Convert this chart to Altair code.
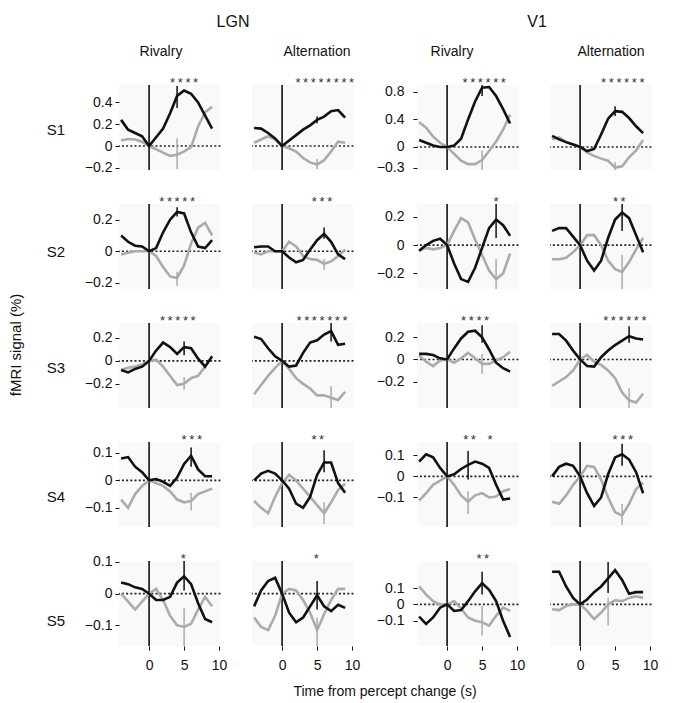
import altair as alt
import pandas as pd

# ---------------- data ----------------
T = [-4, -3, -2, -1, 0, 1, 2, 3, 4, 5, 6, 7, 8, 9]
X_DOMAIN = [-4.3, 10.2]
X_TICKS = [0, 5, 10]

SUBJECTS = ["S1", "S2", "S3", "S4", "S5"]
REGIONS = ["LGN", "V1"]
CONDITIONS = ["Rivalry", "Alternation"]

# y ranges / ticks per subject
LGN_YDOMAIN = [[-0.22, 0.56], [-0.24, 0.30], [-0.41, 0.33], [-0.17, 0.14], [-0.165, 0.103]]
V1_YDOMAIN = [[-0.335, 0.90], [-0.31, 0.29], [-0.44, 0.33], [-0.24, 0.163], [-0.255, 0.266]]
LGN_YTICKS = [[-0.2, 0, 0.2, 0.4], [-0.2, 0, 0.2], [-0.2, 0, 0.2], [-0.1, 0, 0.1], [-0.1, 0, 0.1]]
V1_YTICKS = [[-0.3, 0, 0.4, 0.8], [-0.2, 0, 0.2], [-0.2, 0, 0.2], [-0.1, 0, 0.1], [-0.1, 0, 0.1]]

# S1
S1_LGN_RIV_BLACK = [0.24, 0.15, 0.12, 0.09, 0.0, 0.08, 0.16, 0.30, 0.46, 0.51, 0.48, 0.40, 0.28, 0.16]
S1_LGN_RIV_GREY = [0.05, 0.065, 0.06, 0.04, 0.0, -0.03, -0.06, -0.09, -0.08, -0.05, -0.01, 0.18, 0.31, 0.36]
S1_LGN_ALT_BLACK = [0.165, 0.16, 0.12, 0.07, 0.0, 0.05, 0.10, 0.15, 0.19, 0.24, 0.27, 0.32, 0.33, 0.26]
S1_LGN_ALT_GREY = [0.03, 0.06, 0.09, 0.06, 0.0, -0.02, -0.05, -0.11, -0.15, -0.17, -0.13, -0.05, 0.04, 0.03]
S1_V1_RIV_BLACK = [0.10, 0.06, 0.02, 0.0, 0.0, 0.02, 0.12, 0.40, 0.66, 0.86, 0.87, 0.74, 0.55, 0.34]
S1_V1_RIV_GREY = [0.36, 0.28, 0.15, 0.06, 0.0, -0.10, -0.20, -0.25, -0.25, -0.19, -0.06, 0.08, 0.25, 0.47]
S1_V1_ALT_BLACK = [0.16, 0.11, 0.07, 0.035, 0.0, -0.06, -0.03, 0.18, 0.41, 0.52, 0.51, 0.42, 0.30, 0.20]
S1_V1_ALT_GREY = [0.11, 0.14, 0.07, 0.04, 0.0, -0.08, -0.13, -0.17, -0.20, -0.30, -0.28, -0.15, -0.05, 0.10]
# S2
S2_LGN_RIV_BLACK = [0.10, 0.06, 0.035, 0.03, 0.0, 0.02, 0.12, 0.20, 0.25, 0.24, 0.12, 0.03, 0.02, 0.07]
S2_LGN_RIV_GREY = [-0.02, -0.01, 0.0, 0.0, 0.0, -0.03, -0.10, -0.16, -0.17, -0.09, 0.05, 0.15, 0.18, 0.10]
S2_LGN_ALT_BLACK = [0.025, 0.03, 0.03, 0.0, 0.0, -0.04, -0.07, -0.055, 0.01, 0.07, 0.11, 0.06, -0.02, -0.05]
S2_LGN_ALT_GREY = [-0.01, -0.02, 0.0, 0.0, 0.0, 0.06, 0.03, -0.03, -0.05, -0.055, -0.08, -0.065, -0.03, 0.01]
S2_V1_RIV_BLACK = [-0.04, 0.0, 0.03, 0.045, 0.0, -0.13, -0.24, -0.26, -0.16, -0.02, 0.12, 0.18, 0.14, 0.065]
S2_V1_RIV_GREY = [-0.04, -0.02, -0.03, -0.02, 0.0, 0.10, 0.19, 0.16, 0.04, -0.07, -0.18, -0.24, -0.20, -0.06]
S2_V1_ALT_BLACK = [0.10, 0.12, 0.12, 0.06, 0.0, -0.11, -0.18, -0.11, 0.05, 0.18, 0.23, 0.19, 0.07, -0.05]
S2_V1_ALT_GREY = [-0.10, -0.10, -0.09, -0.05, 0.0, 0.07, 0.07, 0.0, -0.11, -0.17, -0.19, -0.12, -0.03, 0.05]
# S3
S3_LGN_RIV_BLACK = [-0.08, -0.10, -0.07, -0.05, 0.0, 0.09, 0.16, 0.12, 0.06, 0.12, 0.11, 0.02, -0.05, 0.04]
S3_LGN_RIV_GREY = [-0.08, -0.06, -0.05, -0.03, 0.0, 0.01, -0.05, -0.13, -0.21, -0.20, -0.15, -0.13, -0.05, None]
S3_LGN_ALT_BLACK = [0.21, 0.19, 0.11, 0.04, 0.0, -0.05, -0.04, 0.07, 0.16, 0.18, 0.23, 0.26, 0.14, 0.15]
S3_LGN_ALT_GREY = [-0.29, -0.21, -0.13, -0.06, 0.0, -0.07, -0.15, -0.20, -0.24, -0.30, -0.30, -0.32, -0.34, -0.27]
S3_V1_RIV_BLACK = [0.05, 0.05, 0.04, 0.01, 0.0, 0.10, 0.19, 0.25, 0.26, 0.20, 0.09, -0.03, -0.08, -0.11]
S3_V1_RIV_GREY = [0.035, -0.02, -0.06, -0.01, 0.0, -0.03, 0.01, 0.06, 0.01, -0.04, -0.04, -0.01, 0.02, 0.07]
S3_V1_ALT_BLACK = [0.23, 0.23, 0.17, 0.08, 0.0, -0.06, -0.065, 0.02, 0.08, 0.13, 0.17, 0.21, 0.19, 0.18]
S3_V1_ALT_GREY = [-0.24, -0.20, -0.16, -0.10, 0.0, 0.04, -0.02, -0.05, -0.10, -0.17, -0.30, -0.37, -0.39, -0.31]
# S4
S4_LGN_RIV_BLACK = [0.08, 0.085, 0.05, 0.03, 0.0, 0.005, -0.005, -0.02, 0.01, 0.06, 0.09, 0.04, 0.015, 0.015]
S4_LGN_RIV_GREY = [-0.07, -0.10, -0.05, -0.02, 0.0, -0.01, -0.02, -0.04, -0.07, -0.08, -0.075, -0.05, -0.04, -0.03]
S4_LGN_ALT_BLACK = [0.0, 0.025, 0.035, 0.025, 0.0, -0.03, -0.085, -0.10, -0.06, 0.02, 0.065, 0.065, -0.01, -0.045]
S4_LGN_ALT_GREY = [-0.075, -0.10, -0.12, -0.06, -0.01, 0.02, 0.0, -0.03, -0.06, -0.09, -0.12, -0.08, -0.035, -0.012]
S4_V1_RIV_BLACK = [0.07, 0.105, 0.09, 0.04, 0.0, 0.01, 0.035, 0.055, 0.07, 0.06, 0.04, -0.04, -0.11, -0.105]
S4_V1_RIV_GREY = [-0.115, -0.08, -0.04, -0.02, 0.0, -0.04, -0.09, -0.12, -0.09, -0.08, -0.10, -0.095, -0.07, -0.06]
S4_V1_ALT_BLACK = [0.0, 0.045, 0.06, 0.05, 0.0, -0.08, -0.14, -0.10, 0.01, 0.09, 0.105, 0.08, 0.02, -0.08]
S4_V1_ALT_GREY = [-0.12, -0.13, -0.09, -0.04, 0.0, 0.05, 0.045, -0.015, -0.10, -0.17, -0.185, -0.13, -0.06, -0.03]
# S5
S5_LGN_RIV_BLACK = [0.035, 0.03, 0.02, 0.015, 0.0, -0.02, -0.02, -0.01, 0.035, 0.055, 0.03, -0.03, -0.08, -0.09]
S5_LGN_RIV_GREY = [0.0, -0.025, -0.05, -0.025, 0.0, 0.015, -0.02, -0.07, -0.10, -0.105, -0.095, -0.05, -0.01, -0.04]
S5_LGN_ALT_BLACK = [-0.04, 0.01, 0.04, 0.05, 0.0, -0.06, -0.09, -0.075, -0.04, -0.005, -0.04, -0.055, -0.035, -0.045]
S5_LGN_ALT_GREY = [-0.075, -0.105, -0.115, -0.07, 0.0, 0.015, 0.01, -0.02, -0.06, -0.115, -0.065, -0.02, 0.015, 0.015]
S5_V1_RIV_BLACK = [-0.075, -0.12, -0.08, -0.02, 0.0, -0.04, -0.035, 0.02, 0.08, 0.13, 0.09, 0.02, -0.10, -0.20]
S5_V1_RIV_GREY = [0.11, 0.06, 0.02, 0.0, 0.0, 0.02, -0.025, -0.08, -0.10, -0.11, -0.13, -0.07, -0.02, -0.04]
S5_V1_ALT_BLACK = [0.20, 0.20, 0.11, 0.04, 0.0, 0.03, 0.075, 0.11, 0.16, 0.21, 0.15, 0.065, 0.075, 0.075]
S5_V1_ALT_GREY = [-0.03, -0.035, -0.01, 0.0, 0.0, -0.04, -0.09, -0.05, 0.0, 0.025, 0.02, 0.04, 0.05, 0.04]

# error bars: [time, black_lo, black_hi, grey_lo, grey_hi]  (rows S1..S5)
LGN_RIV_ERR = [[4, 0.35, 0.55, -0.21, 0.07], [4, 0.22, 0.28, -0.22, -0.13], [5, 0.05, 0.17, -0.25, -0.14],
               [6, 0.05, 0.12, -0.11, -0.045], [5, 0.01, 0.105, -0.17, -0.045]]
LGN_ALT_ERR = [[5, 0.21, 0.27, -0.21, -0.12], [6, 0.08, 0.15, -0.12, -0.05], [7, 0.17, 0.33, -0.42, -0.22],
               [6, 0.03, 0.11, -0.16, -0.08], [5, -0.05, 0.04, -0.165, -0.075]]
V1_RIV_ERR = [[5, 0.74, 0.92, -0.34, -0.05], [7, 0.05, 0.29, -0.32, -0.10], [5, 0.15, 0.31, -0.13, 0.05],
              [3, -0.015, 0.12, -0.18, -0.07], [5, 0.06, 0.20, -0.19, -0.01]]
V1_ALT_ERR = [[5, 0.45, 0.59, -0.34, -0.22], [6, 0.10, 0.30, -0.31, -0.07], [7, 0.15, 0.30, -0.44, -0.26],
              [6, 0.05, 0.155, -0.23, -0.13], [4, 0.07, 0.26, -0.13, 0.04]]

# significance asterisks: pattern and centre time
LGN_RIV_STARS = ["****", "*****", "*****", "***", "*"]
LGN_RIV_STAR_T = [5.0, 4.0, 4.1, 6.1, 4.9]
LGN_ALT_STARS = ["********", "***", "*******", "**", "*"]
LGN_ALT_STAR_T = [6.1, 5.7, 5.7, 5.1, 4.9]
V1_RIV_STARS = ["******", "*", "****", "** *", "**"]
V1_RIV_STAR_T = [5.3, 7.0, 4.0, 4.4, 5.1]
V1_ALT_STARS = ["******", "**", "******", "***", ""]
V1_ALT_STAR_T = [6.1, 5.6, 6.4, 6.1, 0.0]

# ---------------- build ----------------
BLACKS = {
    (0, 0): S1_LGN_RIV_BLACK, (0, 1): S1_LGN_ALT_BLACK, (0, 2): S1_V1_RIV_BLACK, (0, 3): S1_V1_ALT_BLACK,
    (1, 0): S2_LGN_RIV_BLACK, (1, 1): S2_LGN_ALT_BLACK, (1, 2): S2_V1_RIV_BLACK, (1, 3): S2_V1_ALT_BLACK,
    (2, 0): S3_LGN_RIV_BLACK, (2, 1): S3_LGN_ALT_BLACK, (2, 2): S3_V1_RIV_BLACK, (2, 3): S3_V1_ALT_BLACK,
    (3, 0): S4_LGN_RIV_BLACK, (3, 1): S4_LGN_ALT_BLACK, (3, 2): S4_V1_RIV_BLACK, (3, 3): S4_V1_ALT_BLACK,
    (4, 0): S5_LGN_RIV_BLACK, (4, 1): S5_LGN_ALT_BLACK, (4, 2): S5_V1_RIV_BLACK, (4, 3): S5_V1_ALT_BLACK,
}
GREYS = {
    (0, 0): S1_LGN_RIV_GREY, (0, 1): S1_LGN_ALT_GREY, (0, 2): S1_V1_RIV_GREY, (0, 3): S1_V1_ALT_GREY,
    (1, 0): S2_LGN_RIV_GREY, (1, 1): S2_LGN_ALT_GREY, (1, 2): S2_V1_RIV_GREY, (1, 3): S2_V1_ALT_GREY,
    (2, 0): S3_LGN_RIV_GREY, (2, 1): S3_LGN_ALT_GREY, (2, 2): S3_V1_RIV_GREY, (2, 3): S3_V1_ALT_GREY,
    (3, 0): S4_LGN_RIV_GREY, (3, 1): S4_LGN_ALT_GREY, (3, 2): S4_V1_RIV_GREY, (3, 3): S4_V1_ALT_GREY,
    (4, 0): S5_LGN_RIV_GREY, (4, 1): S5_LGN_ALT_GREY, (4, 2): S5_V1_RIV_GREY, (4, 3): S5_V1_ALT_GREY,
}
ERRS = [LGN_RIV_ERR, LGN_ALT_ERR, V1_RIV_ERR, V1_ALT_ERR]
STARS = [LGN_RIV_STARS, LGN_ALT_STARS, V1_RIV_STARS, V1_ALT_STARS]
STAR_T = [LGN_RIV_STAR_T, LGN_ALT_STAR_T, V1_RIV_STAR_T, V1_ALT_STAR_T]

W, H = 101.5, 85
FONT = "Liberation Sans"
BLACK = "#111111"
GREY = "#ababab"
THIN = "\u2009"

LABEL_EXPR = ("datum.value == 0 ? '0' : (datum.value < 0 ? '\u2212' + format(-datum.value, '.1f')"
              " : format(datum.value, '.1f'))")


def star_text(pattern):
    return THIN.join(ch if ch == "*" else "\u2002" for ch in pattern)


def text_layer(txt, x, y, size=14, angle=0):
    return alt.Chart(pd.DataFrame({"txt": [txt]})).mark_text(
        font=FONT, fontSize=size, color=BLACK, align="center", baseline="middle", angle=angle
    ).encode(x=alt.value(x), y=alt.value(y), text="txt:N")


def panel(r, c):
    ydom = LGN_YDOMAIN[r] if c < 2 else V1_YDOMAIN[r]
    yticks = LGN_YTICKS[r] if c < 2 else V1_YTICKS[r]
    x_axis = (alt.Axis(values=X_TICKS, format="d", domain=False, grid=False, tickSize=4, tickColor=BLACK,
                       labelFontSize=14, labelFont=FONT, labelColor=BLACK, labelPadding=8, title=None,
                       labelFlush=False)
              if r == 4 else None)
    y_axis = (alt.Axis(values=yticks, labelExpr=LABEL_EXPR, domain=False, grid=False, tickSize=4,
                       tickColor=BLACK, labelFontSize=14, labelFont=FONT, labelColor=BLACK,
                       labelPadding=3 if c == 0 else 9, title=None)
              if c in (0, 2) else None)
    xs = alt.Scale(domain=X_DOMAIN, nice=False, zero=False)
    ys = alt.Scale(domain=ydom, nice=False, zero=False)

    def X():
        return alt.X("t:Q", scale=xs, axis=x_axis)

    def Y(f="v"):
        return alt.Y(f + ":Q", scale=ys, axis=y_axis)

    zero = alt.Chart(pd.DataFrame({"v": [0.0]})).mark_rule(
        strokeDash=[2, 2.2], strokeWidth=1.6, color="#222222").encode(y=Y())
    vline = alt.Chart(pd.DataFrame({"t": [0.0]})).mark_rule(strokeWidth=1.6, color=BLACK).encode(x=X())
    grey = alt.Chart(pd.DataFrame({"t": T, "v": GREYS[(r, c)]})).mark_line(
        strokeWidth=2.6, color=GREY).encode(x=X(), y=Y())
    black = alt.Chart(pd.DataFrame({"t": T, "v": BLACKS[(r, c)]})).mark_line(
        strokeWidth=2.6, color=BLACK).encode(x=X(), y=Y())
    e = ERRS[c][r]
    gerr = alt.Chart(pd.DataFrame({"t": [e[0]], "lo": [e[3]], "hi": [e[4]]})).mark_rule(
        strokeWidth=1.5, color=GREY, clip=True).encode(x=X(), y=Y("lo"), y2="hi:Q")
    berr = alt.Chart(pd.DataFrame({"t": [e[0]], "lo": [e[1]], "hi": [e[2]]})).mark_rule(
        strokeWidth=1.5, color=BLACK, clip=True).encode(x=X(), y=Y("lo"), y2="hi:Q")
    layers = [zero, vline, grey, gerr, black, berr]
    stxt = STARS[c][r]
    if stxt:
        layers.append(alt.Chart(pd.DataFrame({"t": [STAR_T[c][r]], "s": [star_text(stxt)]})).mark_text(
            font=FONT, fontSize=13, color="#333333", baseline="alphabetic", align="center", dy=2
        ).encode(x=X(), y=alt.value(0), text="s:N"))

    # annotations
    if r == 0 and c == 0:
        layers += [text_layer("LGN", 114, -63, 16), text_layer("Rivalry", 42, -33, 14)]
    if r == 0 and c == 1:
        layers += [text_layer("Alternation", 65, -33, 14)]
    if r == 0 and c == 2:
        layers += [text_layer("V1", 120, -63, 16), text_layer("Rivalry", 35, -33, 14)]
    if r == 0 and c == 3:
        layers += [text_layer("Alternation", 61, -33, 14)]
    if c == 0:
        row_y = [45, 48, 45, 55, 60][r]
        layers.append(text_layer(SUBJECTS[r], -63, row_y, 15))
    if r == 2 and c == 0:
        layers.append(text_layer("fMRI signal (%)", -103.4, 22, 15, angle=270))
    if r == 4 and c == 1:
        layers.append(text_layer("Time from percept change (s)", 133, 131, 14))

    return alt.layer(*layers).properties(
        width=W, height=H, view=alt.ViewBackground(fill="#f9f9f9", strokeWidth=0))


def spacer():
    return alt.Chart(pd.DataFrame({"a": [0]})).mark_point(opacity=0).encode(
        x=alt.value(0), y=alt.value(0)).properties(
        width=1, height=H, view=alt.ViewBackground(fill="white", strokeWidth=0))


cells = []
for r in range(5):
    cells += [panel(r, 0), panel(r, 1), spacer(), panel(r, 2), panel(r, 3)]

chart = alt.concat(
    *cells, columns=5, spacing={"row": 34, "column": 31}, bounds="flush", align="each"
).properties(
    padding={"left": 0, "top": 6, "right": 0, "bottom": 0}
).configure(font=FONT, background="white").configure_view(strokeWidth=0)

chart.save("out.html", embed_options={"renderer": "svg", "actions": False})
